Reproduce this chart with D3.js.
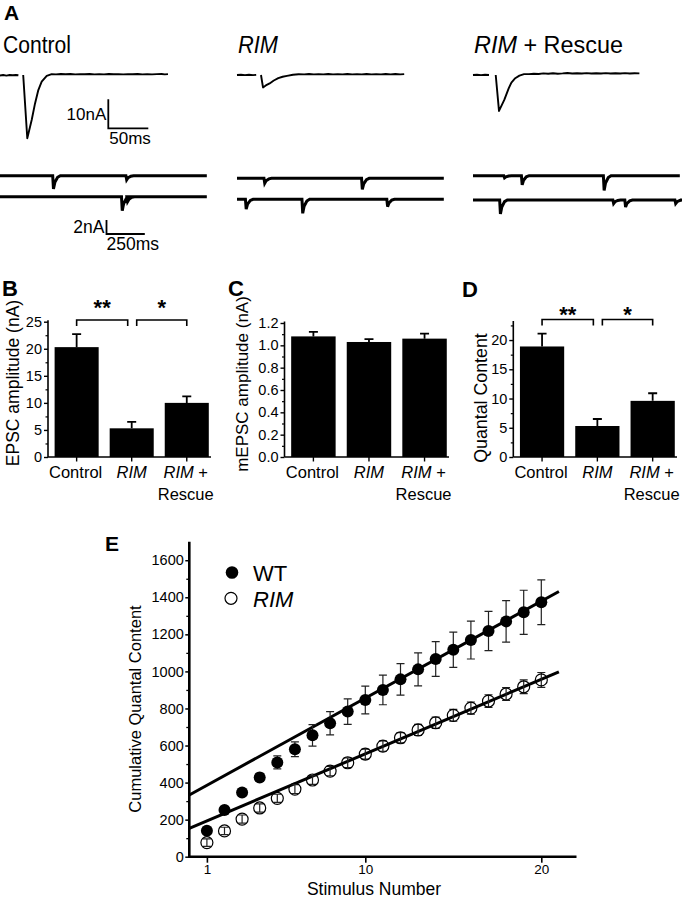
<!DOCTYPE html>
<html><head><meta charset="utf-8">
<script src="https://cdn.jsdelivr.net/npm/d3@7"></script>
<style>
body{margin:0;background:#fff;}
svg{display:block;font-family:"Liberation Sans",Arial,Helvetica,sans-serif;}
</style></head><body>
<svg id="fig" width="682" height="899"></svg>
<script>
// ---------------- DATA ----------------
const groups = ["Control", "RIM", "RIM + Rescue"];
const epscMean = [20.3, 5.3, 10.0];
const epscSem = [2.4, 1.2, 1.2];
const mepscMean = [1.08, 1.03, 1.06];
const mepscSem = [0.04, 0.025, 0.045];
const quantalMean = [18.9, 5.3, 9.6];
const quantalSem = [2.2, 1.2, 1.3];
const sigPairs = [[0, 1, "**"], [1, 2, "*"]];

const stimulus = [1,2,3,4,5,6,7,8,9,10,11,12,13,14,15,16,17,18,19,20];
const wtCum = [140,252,347,428,509,580,655,720,783,846,900,957,1011,1067,1117,1169,1218,1270,1319,1373];
const wtErr = [10,12,15,22,35,40,58,63,69,75,80,85,89,94,95,102,106,112,119,121];
const rimCum = [76,139,203,263,315,365,414,462,507,554,597,642,684,723,763,802,840,878,917,954];
const rimErr = [20,20,22,22,22,24,24,25,26,27,28,28,30,30,32,33,34,35,37,40];
const fitIntercept = [333, 153];
const fitSlope = [52.3, 40.2];
const fitRange = [0, 21];
const xTicksE = [1, 10, 20];

// evoked EPSC traces: [time ms, current nA]; null = blanked stimulus artifact
const controlEvoked = [[0,-0.2],[4,0],[8,-0.2],[12,0],[16,-0.1],[20,0],[23,-0.1],null,
  [29,0],[34.1,-21.8],[39.6,-15.5],[43.8,-9.8],[47.9,-5.2],[52.1,-2.3],[58.4,-0.3],[64.6,0.3],
  [70,0.2],[76,0.35],[82,0.25],[88,0.35],[94,0.2],[100,0.3],[106,0.25],[112,0.35],[118,0.2],[124,0.3],
  [130,0.2],[136,0.35],[142,0.25],[148,0.3],[154,0.2],[160,0.3],[166,0.25],[172,0.35],[178,0.2],
  [184,0.3],[190,0.2],[196,0.3],[202,0.35],[206,0.2],[210,0.3]];
const rimEvoked = [[0,0],[5,0.1],[10,-0.05],[15,0.1],[20,-0.05],[24,0.05],null,
  [30,0],[32.5,-4.3],[36,-3.6],[40.8,-2.9],[46,-1.9],[51.6,-1.1],[57,-0.6],[62.5,-0.3],[70,0.1],
  [77,0.25],[84,0.2],[90,0.35],[96,0.2],[102,0.3],[108,0.2],[114,0.35],[120,0.2],[126,0.3],[132,0.2],
  [138,0.35],[144,0.2],[150,0.3],[156,0.2],[162,0.35],[168,0.2],[174,0.3],[180,0.2],[186,0.35],
  [192,0.2],[198,0.35],[204,0.2],[209,0.3]];
const rescueEvoked = [[0,0],[5,0.1],[10,-0.05],[15,0.1],[20,0],null,
  [28.4,0],[32.5,-12.4],[39.1,-8.6],[44.6,-4.6],[48,-2.6],[52.8,-1.1],[58,-0.2],[63.8,0.3],
  [70,0.3],[76,0.45],[82,0.35],[88,0.55],[94,0.45],[100,0.6],[106,0.45],[112,0.55],[118,0.7],[124,0.5],
  [130,0.6],[136,0.5],[142,0.65],[148,0.5],[154,0.6],[160,0.5],[166,0.65],[172,0.5],[178,0.6],
  [184,0.5],[190,0.65],[196,0.5],[202,0.6],[208,0.55]];

// spontaneous mEPSC events per sweep: [time ms, amplitude nA]
const controlMini1 = [[346,1.9],[824,0.6]];
const controlMini2 = [[795,2.0],[830,0.7]];
const rimMini1 = [[178,0.7],[815,1.6]];
const rimMini2 = [[57,1.4],[426,2.0],[980,1.05]];
const rescueMini1 = [[203,0.3],[318,1.3],[853,2.1]];
const rescueMini2 = [[176,2.0],[915,0.5],[993,1.0],[1320,0.5]];
const sweepDuration = 1350;

// ---------------- DRAWING ----------------
const svg = d3.select("#fig");
const ink = "#000";

function letter(t, x, y, size) {
  svg.append("text").attr("x", x).attr("y", y).attr("font-size", size || 22)
    .attr("font-weight", "bold").attr("fill", ink).text(t);
}

// ===== Panel A =====
letter("A", 4, 20, 21);
const titles = [
  {x: 3, parts: [["Control", false]], len: 68},
  {x: 238, parts: [["RIM", true]], len: 40},
  {x: 474, parts: [["RIM", true], [" + Rescue", false]], len: 149}
];
titles.forEach(t => {
  const tx = svg.append("text").attr("x", t.x).attr("y", 52.5).attr("font-size", 23)
    .attr("textLength", t.len).attr("lengthAdjust", "spacingAndGlyphs").attr("fill", ink);
  t.parts.forEach(p => tx.append("tspan").attr("font-style", p[1] ? "italic" : "normal").text(p[0]));
});

const evX = d3.scaleLinear().domain([0, 50]).range([0, 40]);
const evY = d3.scaleLinear().domain([0, -10]).range([0, 29]);
const evLine = d3.line().defined(d => d !== null).x(d => evX(d[0])).y(d => evY(d[1]));
[[controlEvoked, 0], [rimEvoked, 237], [rescueEvoked, 473]].forEach(([tr, ox]) => {
  svg.append("g").attr("transform", `translate(${ox},75)`)
    .append("path").attr("d", evLine(tr)).attr("fill", "none").attr("stroke", ink)
    .attr("stroke-width", 1.9).attr("stroke-linejoin", "round");
});
// evoked scale bar
{
  const g = svg.append("g").attr("transform", "translate(108.3,128.3)");
  g.append("path").attr("d", `M0,${evY(-10) * -1}V0H${evX(50)}`).attr("fill", "none")
    .attr("stroke", ink).attr("stroke-width", 1.8);
  g.append("text").attr("x", -2).attr("y", -8).attr("text-anchor", "end").attr("font-size", 17).text("10nA");
  g.append("text").attr("x", 1).attr("y", 15.5).attr("font-size", 17).text("50ms");
}

const miniX = d3.scaleLinear().domain([0, 250]).range([0, 38.3]);
const miniY = d3.scaleLinear().domain([0, -2]).range([0, 14]);
const miniLine = d3.line().x(d => miniX(d[0])).y(d => miniY(d[1]));
function sweepPoints(events) {
  const pts = [[0, 0]];
  events.forEach(([t, a]) => {
    pts.push([t - 2, 0], [t + 3, -a], [t + 12, -0.5 * a], [t + 30, -0.12 * a], [t + 48, 0]);
  });
  pts.push([sweepDuration, 0]);
  return pts;
}
[[controlMini1, 0, 175.7], [controlMini2, 0, 196.7],
 [rimMini1, 237, 178.3], [rimMini2, 237, 199.3],
 [rescueMini1, 473, 175.7], [rescueMini2, 473, 200]].forEach(([ev, ox, oy]) => {
  svg.append("g").attr("transform", `translate(${ox},${oy})`)
    .append("path").attr("d", miniLine(sweepPoints(ev))).attr("fill", "none")
    .attr("stroke", ink).attr("stroke-width", 3).attr("stroke-linejoin", "miter");
});
{
  const g = svg.append("g").attr("transform", "translate(106.5,234)");
  g.append("path").attr("d", `M0,${-miniY(-2)}V0H${miniX(250)}`).attr("fill", "none")
    .attr("stroke", ink).attr("stroke-width", 1.8);
  g.append("text").attr("x", -2).attr("y", -1).attr("text-anchor", "end").attr("font-size", 17.5).text("2nA");
  g.append("text").attr("x", 0).attr("y", 16).attr("font-size", 17.5).text("250ms");
}

// ===== Panels B, C, D =====
function barPanel(o) {
  const g = svg.append("g");
  const xb = d3.scaleBand().domain(groups).range([o.x0, o.x1])
    .paddingInner(0.2).paddingOuter(0.08).align(0.75);
  const y = d3.scaleLinear().domain(o.domain).range([457, o.top]);
  g.selectAll("rect.bar").data(groups).join("rect")
    .attr("x", d => xb(d)).attr("width", xb.bandwidth())
    .attr("y", (d, i) => y(o.mean[i])).attr("height", (d, i) => 457 - y(o.mean[i]))
    .attr("fill", ink);
  groups.forEach((d, i) => {
    const cx = xb(d) + xb.bandwidth() / 2;
    const yt = y(o.mean[i] + o.sem[i]);
    g.append("path").attr("d", `M${cx},${y(o.mean[i])}V${yt}M${cx - 4.5},${yt}H${cx + 4.5}`)
      .attr("stroke", ink).attr("stroke-width", 1.8).attr("fill", "none");
  });
  const ax = d3.axisLeft(y).tickValues(o.major).tickFormat(o.fmt).tickSize(4).tickPadding(2).tickSizeOuter(0);
  const ag = g.append("g").attr("transform", `translate(${o.x0},0)`).call(ax);
  ag.select(".domain").attr("stroke-width", 1.6).attr("d", `M0,457V${o.top - 1.5}`);
  ag.selectAll(".tick line").attr("stroke-width", 1.4);
  ag.selectAll(".tick text").attr("font-size", 14.5).attr("fill", ink)
    .attr("font-family", "Liberation Sans, Arial, sans-serif");
  const mg = g.append("g").attr("transform", `translate(${o.x0},0)`)
    .call(d3.axisLeft(y).tickValues(o.minor).tickFormat("").tickSize(2.5).tickSizeOuter(0));
  mg.select(".domain").remove();
  mg.selectAll(".tick line").attr("stroke-width", 1.2);
  g.append("line").attr("x1", o.x0).attr("x2", o.x1).attr("y1", 457).attr("y2", 457)
    .attr("stroke", ink).attr("stroke-width", 1.6);
  groups.forEach(d => {
    const cx = xb(d) + xb.bandwidth() / 2;
    g.append("line").attr("x1", cx).attr("x2", cx).attr("y1", 457).attr("y2", 461.5)
      .attr("stroke", ink).attr("stroke-width", 1.4);
  });
  const c0 = xb(groups[0]) + xb.bandwidth() / 2;
  const c1 = xb(groups[1]) + xb.bandwidth() / 2;
  const c2 = xb(groups[2]) + xb.bandwidth() / 2;
  g.append("text").attr("x", c0 - 1).attr("y", 478).attr("text-anchor", "middle").attr("font-size", 16.5).text("Control");
  g.append("text").attr("x", c1).attr("y", 478).attr("text-anchor", "middle").attr("font-size", 16.5)
    .attr("font-style", "italic").text("RIM");
  const t3 = g.append("text").attr("x", c2 - 1).attr("y", 478).attr("text-anchor", "middle").attr("font-size", 16.5);
  t3.append("tspan").attr("font-style", "italic").text("RIM");
  t3.append("tspan").text(" +");
  g.append("text").attr("x", c2 - 1).attr("y", 500).attr("text-anchor", "middle").attr("font-size", 16.5).text("Rescue");
  g.append("text").attr("transform", `translate(${o.labelX},${o.labelY}) rotate(-90)`)
    .attr("text-anchor", "middle").attr("font-size", o.labelSize).text(o.label);
  if (o.sig) {
    const centers = [c0, c1, c2];
    sigPairs.forEach(([a, b, s], k) => {
      const xa = centers[a] + (k === 0 ? 0 : 5);
      const xbb = centers[b] - (k === 0 ? 4 : 0);
      g.append("path").attr("d", `M${xa},${o.sigY + 6}V${o.sigY}H${xbb}V${o.sigY + 6}`)
        .attr("fill", "none").attr("stroke", ink).attr("stroke-width", 1.6);
      g.append("text").attr("x", (xa + xbb) / 2).attr("y", o.starY).attr("text-anchor", "middle")
        .attr("font-size", 22).attr("font-weight", "bold").text(s);
    });
  }
}

letter("B", 2, 296, 22);
barPanel({x0: 48, x1: 211, domain: [0, 25], top: 321.7, mean: epscMean, sem: epscSem,
  major: [0, 5, 10, 15, 20, 25], minor: [2.5, 7.5, 12.5, 17.5, 22.5], fmt: d3.format("d"),
  label: "EPSC amplitude (nA)", labelX: 19, labelY: 383, labelSize: 17.5,
  sig: true, sigY: 320, starY: 315});

letter("C", 228, 296, 22);
barPanel({x0: 284.5, x1: 449, domain: [0, 1.2], top: 323, mean: mepscMean, sem: mepscSem,
  major: [0, 0.2, 0.4, 0.6, 0.8, 1.0, 1.2], minor: [0.1, 0.3, 0.5, 0.7, 0.9, 1.1], fmt: d3.format(".1f"),
  label: "mEPSC amplitude (nA)", labelX: 248, labelY: 384, labelSize: 17, sig: false});

letter("D", 462, 297, 22);
barPanel({x0: 513.3, x1: 677, domain: [0, 23], top: 322.5, mean: quantalMean, sem: quantalSem,
  major: [0, 5, 10, 15, 20], minor: [2.5, 7.5, 12.5, 17.5, 22.5], fmt: d3.format("d"),
  label: "Quantal Content", labelX: 487, labelY: 398, labelSize: 17.8,
  sig: true, sigY: 319.5, starY: 322});

// ===== Panel E =====
letter("E", 105, 551, 21);
{
  const g = svg.append("g");
  const x = d3.scaleLinear().domain([0, 22]).range([189.3, 576.5]);
  const y = d3.scaleLinear().domain([0, 1700]).range([856.7, 541.7]);

  const ya = d3.axisLeft(y).tickValues([0, 200, 400, 600, 800, 1000, 1200, 1400, 1600])
    .tickFormat(d3.format("d")).tickSize(4).tickPadding(1.5).tickSizeOuter(0);
  const yg = g.append("g").attr("transform", `translate(${x(0)},0)`).call(ya);
  yg.select(".domain").attr("stroke-width", 2.6).attr("d", `M0,${y(0) + 1.3}V${y(1700)}`);
  yg.selectAll(".tick line").attr("stroke-width", 1.5);
  yg.selectAll(".tick text").attr("font-size", 14.5).attr("fill", ink)
    .attr("font-family", "Liberation Sans, Arial, sans-serif");
  const ym = g.append("g").attr("transform", `translate(${x(0)},0)`)
    .call(d3.axisLeft(y).tickValues([100, 300, 500, 700, 900, 1100, 1300, 1500]).tickFormat("").tickSize(3).tickSizeOuter(0));
  ym.select(".domain").remove();
  ym.selectAll(".tick line").attr("stroke-width", 1.3);

  const xa = d3.axisBottom(x).tickValues(xTicksE).tickFormat(d3.format("d")).tickSize(6).tickPadding(2).tickSizeOuter(0);
  const xg = g.append("g").attr("transform", `translate(0,${y(0)})`).call(xa);
  xg.select(".domain").attr("stroke-width", 2.6).attr("d", `M${x(0) - 1.3},0H${x(22)}`);
  xg.selectAll(".tick line").attr("stroke-width", 1.6);
  xg.selectAll(".tick text").attr("font-size", 13.5).attr("fill", ink)
    .attr("font-family", "Liberation Sans, Arial, sans-serif");

  g.append("text").attr("transform", `translate(140.5,709) rotate(-90)`).attr("text-anchor", "middle")
    .attr("font-size", 16.5).text("Cumulative Quantal Content");
  g.append("text").attr("x", 374).attr("y", 895).attr("text-anchor", "middle")
    .attr("font-size", 17.5).text("Stimulus Number");

  fitIntercept.forEach((b, i) => {
    g.append("line").attr("x1", x(fitRange[0])).attr("x2", x(fitRange[1]))
      .attr("y1", y(b + fitSlope[i] * fitRange[0])).attr("y2", y(b + fitSlope[i] * fitRange[1]))
      .attr("stroke", ink).attr("stroke-width", 3);
  });

  function errBars(vals, errs) {
    stimulus.forEach((s, i) => {
      const cx = x(s), y1 = y(vals[i] - errs[i]), y2 = y(vals[i] + errs[i]);
      g.append("path").attr("d", `M${cx},${y1}V${y2}M${cx - 4},${y1}H${cx + 4}M${cx - 4},${y2}H${cx + 4}`)
        .attr("stroke", "#222").attr("stroke-width", 1.2).attr("fill", "none");
    });
  }
  errBars(rimCum, rimErr);
  g.selectAll("circle.rim").data(stimulus).join("circle").attr("class", "rim")
    .attr("cx", d => x(d)).attr("cy", (d, i) => y(rimCum[i])).attr("r", 6)
    .attr("fill", "none").attr("stroke", ink).attr("stroke-width", 1.2);
  errBars(wtCum, wtErr);
  g.selectAll("circle.wt").data(stimulus).join("circle").attr("class", "wt")
    .attr("cx", d => x(d)).attr("cy", (d, i) => y(wtCum[i])).attr("r", 6).attr("fill", ink);

  g.append("circle").attr("cx", 232).attr("cy", 572.5).attr("r", 6.3).attr("fill", ink);
  g.append("text").attr("x", 253).attr("y", 580.5).attr("font-size", 22).text("WT");
  g.append("circle").attr("cx", 231).attr("cy", 598.3).attr("r", 6).attr("fill", "none")
    .attr("stroke", ink).attr("stroke-width", 1.2);
  g.append("text").attr("x", 253).attr("y", 606.5).attr("font-size", 22).attr("font-style", "italic").text("RIM");
}
</script>
</body></html>
